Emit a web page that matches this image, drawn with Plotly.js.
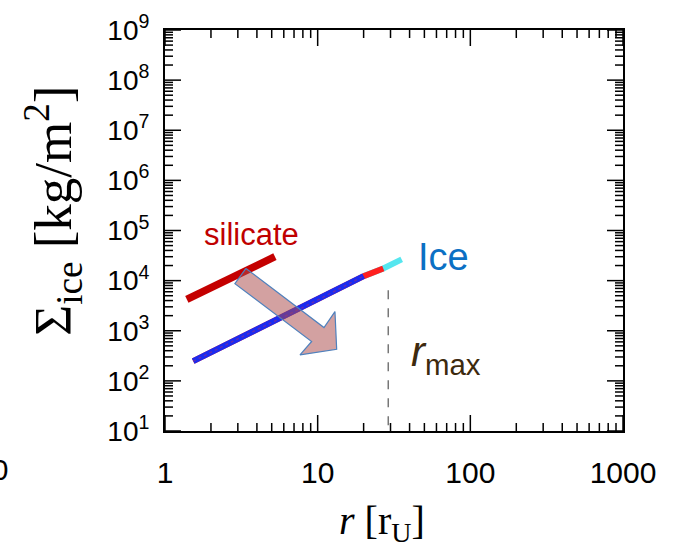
<!DOCTYPE html>
<html><head><meta charset="utf-8">
<script src="https://cdn.plot.ly/plotly-3.0.1.min.js"></script>
<style>html,body{margin:0;padding:0;background:#fff;} #chart{width:676px;height:554px;}</style>
</head><body><div id="chart"></div>
<script>
// Data (r in r_U, Sigma in kg/m^2)
const iceBlueR = [1.53, 3, 6, 10, 20];
const iceBlueS = [247, 690, 1900, 4100, 12300];
const iceRedR = [1.53, 10, 20, 26.9];
const iceRedS = [247, 4100, 12300, 17500];
const iceCyanR = [20, 26.9, 35.5];
const iceCyanS = [12300, 17500, 26500];
const silicateR = [1.39, 5.25];
const silicateS = [4240, 30000];
const rMaxR = [29.0, 29.0];
const rMaxS = [6400, 10];
const arrowR = [3.39, 11.0, 12.98, 13.32, 7.66, 9.13, 2.87, 3.39];
const arrowS = [17500, 1158, 2410, 428, 330, 610, 8690, 17500];
const yTickVals = [1e1, 1e2, 1e3, 1e4, 1e5, 1e6, 1e7, 1e8, 1e9];
const yTickText = ['10<sup>1</sup>','10<sup>2</sup>','10<sup>3</sup>','10<sup>4</sup>','10<sup>5</sup>','10<sup>6</sup>','10<sup>7</sup>','10<sup>8</sup>','10<sup>9</sup>'];
const xTickVals = [1, 10, 100, 1000];
const xTickText = ['1', '10', '100', '1000'];

// Plot-area size in px (used for the tick-mark overlay axes)
const W = 676 - 165 - 53, H = 554 - 30 - 123;
const MAJ = 16, MIN = 8;

// Tick mark segments: bottom/top on a log-x / pixel-y overlay, left/right on a pixel-x / log-y overlay
function tickSegs(lo, hi, horizontal) {
  const a = [], b = [];
  for (let e = lo; e <= hi; e++) {
    for (let d = 1; d <= 9; d++) {
      if (e === hi && d > 1) break;
      const v = d * Math.pow(10, e);
      const len = d === 1 ? MAJ : MIN;
      const span = horizontal ? H : W;
      // near side
      a.push(v, v, null); b.push(0, len, null);
      // far side
      a.push(v, v, null); b.push(span - len, span, null);
    }
  }
  return {a: a, b: b};
}
const xt = tickSegs(0, 3, true);
const yt = tickSegs(1, 9, false);

const traces = [
  {x: iceCyanR, y: iceCyanS, mode: 'lines', line: {color: '#55e6ef', width: 6}},
  {x: iceRedR, y: iceRedS, mode: 'lines', line: {color: '#ff1f1f', width: 6}},
  {x: iceBlueR, y: iceBlueS, mode: 'lines', line: {color: '#1a2bf0', width: 6}},
  {x: iceBlueR, y: iceBlueS, mode: 'lines', line: {color: '#ff3030', width: 1.5, dash: 'dot'}, opacity: 0.3},
  {x: silicateR, y: silicateS, mode: 'lines', line: {color: '#c40000', width: 7.5}},
  {x: rMaxR, y: rMaxS, mode: 'lines', line: {color: '#777777', width: 1.5, dash: 'dash'}},
  {x: arrowR, y: arrowS, mode: 'lines', fill: 'toself', fillcolor: 'rgba(170,75,75,0.52)', line: {color: '#4f81bd', width: 1.2}},
  {x: xt.a, y: xt.b, xaxis: 'x2', yaxis: 'y2', mode: 'lines', line: {color: '#000', width: 1.5}, hoverinfo: 'skip'},
  {x: yt.b, y: yt.a, xaxis: 'x3', yaxis: 'y3', mode: 'lines', line: {color: '#000', width: 1.5}, hoverinfo: 'skip'}
];

const axCommon = {
  type: 'log', showline: true, linewidth: 2, linecolor: '#000', mirror: true,
  ticks: '', showgrid: false, zeroline: false, tickmode: 'array'
};
const hiddenAx = {visible: false, showgrid: false, zeroline: false, fixedrange: true};

const layout = {
  width: 676, height: 554,
  margin: {l: 165, r: 53, t: 30, b: 123},
  showlegend: false,
  xaxis: Object.assign({}, axCommon, {
    range: [0, 3], tickvals: xTickVals, ticktext: xTickText,
    tickfont: {family: 'Arial', size: 30, color: '#000'},
    ticklabelstandoff: 14
  }),
  yaxis: Object.assign({}, axCommon, {
    range: [1, 9], tickvals: yTickVals, ticktext: yTickText,
    tickfont: {family: 'Arial', size: 28, color: '#000'},
    ticklabelstandoff: 8
  }),
  xaxis2: Object.assign({}, hiddenAx, {type: 'log', range: [0, 3], overlaying: 'x', anchor: 'y2'}),
  yaxis2: Object.assign({}, hiddenAx, {type: 'linear', range: [0, H], overlaying: 'y', anchor: 'x2'}),
  xaxis3: Object.assign({}, hiddenAx, {type: 'linear', range: [0, W], overlaying: 'x', anchor: 'y3'}),
  yaxis3: Object.assign({}, hiddenAx, {type: 'log', range: [1, 9], overlaying: 'y', anchor: 'x3'}),
  annotations: [
    {xref: 'paper', yref: 'paper', x: 0.1878, y: 0.4888, text: 'silicate', showarrow: false,
     font: {family: 'Arial', size: 31, color: '#c00000'}, xanchor: 'center', yanchor: 'middle'},
    {xref: 'paper', yref: 'paper', x: 0.607, y: 0.433, text: 'Ice', showarrow: false,
     font: {family: 'Liberation Sans Narrow, Arial', size: 38, color: '#0b70c4'}, xanchor: 'center', yanchor: 'middle'},
    {xref: 'paper', yref: 'paper', x: 0.614, y: 0.19, text: '<i>r</i><sub>max</sub>', showarrow: false,
     font: {family: 'Arial', size: 42, color: '#3d2a0e'}, xanchor: 'center', yanchor: 'middle'},
    {xref: 'paper', yref: 'paper', x: -0.245, y: 0.549, text: 'Σ<sub>ice</sub> [kg/m<sup>2</sup>]', showarrow: false, textangle: -90,
     font: {family: 'Liberation Serif, Times New Roman, serif', size: 53, color: '#000'}, xanchor: 'center', yanchor: 'middle'},
    {xref: 'paper', yref: 'paper', x: 0.474, y: -0.23, text: '<i>r</i> [r<sub>U</sub>]', showarrow: false,
     font: {family: 'Liberation Serif, Times New Roman, serif', size: 40, color: '#000'}, xanchor: 'center', yanchor: 'middle'},
    {xref: 'paper', yref: 'paper', x: -0.338, y: -0.097, text: '10', showarrow: false,
     font: {family: 'Arial', size: 30, color: '#000'}, xanchor: 'right', yanchor: 'middle'}
  ]
};

Plotly.newPlot('chart', traces, layout, {staticPlot: true, displayModeBar: false}).then(function () {
  document.body.getBoundingClientRect();
});
</script>
</body></html>
